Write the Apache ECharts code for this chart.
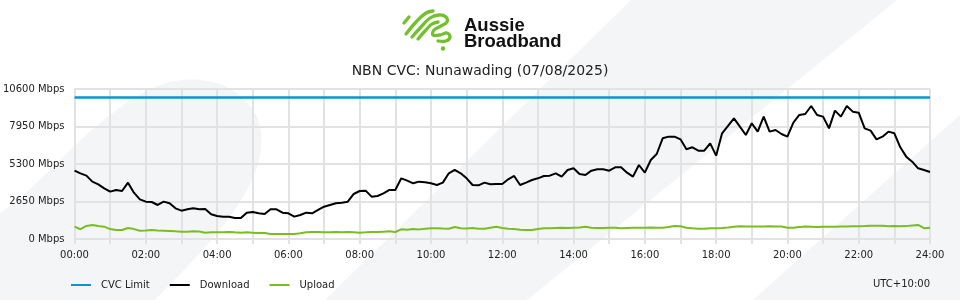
<!DOCTYPE html>
<html><head><meta charset="utf-8">
<script src="https://cdn.jsdelivr.net/npm/echarts@6/dist/echarts.min.js"></script>
<style>html,body{margin:0;padding:0;background:#fff}#c{width:960px;height:300px}</style>
</head><body><div id="c"></div>
<script>
// Download (Mbps), one value every 10 minutes from 00:00 to 24:00
const download = [
4830,4641,4476,4052,3864,3581,3346,3463,3393,3982,3275,2804,
2639,2615,2403,2639,2521,2168,2003,2097,2168,2097,2120,1743,
1626,1579,1579,1484,1484,1861,1908,1814,1767,2097,2097,1861,
1814,1579,1696,1861,1814,2050,2285,2403,2521,2568,2639,3181,
3393,3416,2992,3039,3228,3463,3463,4288,4123,3935,4052,4005,
3935,3817,3982,4641,4877,4641,4288,3817,3793,3982,3864,3887,
3887,4217,4453,3817,3982,4170,4288,4453,4476,4641,4406,4877,
4995,4594,4523,4830,4924,4924,4830,5065,5065,4688,4406,5230,
4688,5584,6008,7115,7233,7233,7044,6338,6479,6243,6243,6762,
5890,7469,7987,8529,7940,7351,8175,7586,8647,7586,7704,7421,
7233,8222,8764,8835,9400,8764,8647,7822,9071,8647,9400,9000,
8929,7822,7657,7044,7233,7586,7469,6479,5819,5466,4995,4877,
4735
];
// Upload (Mbps), same sampling
const upload = [
872,690,920,990,920,870,700,636,636,780,700,589,
600,640,600,589,570,540,518,518,540,530,448,480,
470,470,495,470,448,470,440,430,420,353,353,353,
353,360,400,470,495,495,470,480,495,480,495,480,
448,470,495,495,520,540,495,683,660,700,680,720,
754,754,740,730,850,760,740,770,730,730,800,870,
780,730,700,660,640,636,700,760,760,780,800,780,
800,820,870,800,780,780,800,800,760,780,800,790,
800,820,800,800,850,920,900,800,760,730,730,760,
760,780,820,870,900,880,880,880,880,900,880,890,
800,800,850,880,870,850,860,870,860,880,880,900,
900,910,930,940,930,900,920,900,910,950,990,760,
800
];
const cvcLimit = 10000;
const yTicks = [0, 2650, 5300, 7950, 10600];
const seriesNames = ['CVC Limit', 'Download', 'Upload'];
const stepMinutes = 10;

const pad = n => String(n).padStart(2, '0');
const times = download.map((_, i) => {
  const m = i * stepMinutes;
  return pad(Math.floor(m / 60)) + ':' + pad(m % 60);
});

const FONT = 'DejaVu Sans';
const BG = '#f4f5f7';
const GREEN = '#78be20';
const LOGO_GREEN = '#72c02c';
const BLUE = '#0a94d6';
const GRID = '#e2e2e2';

const logoStroke = pts => ({type: 'polyline', silent: true, shape: {points: pts, smooth: 0.4},
  style: {stroke: LOGO_GREEN, lineWidth: 3.3, fill: null, lineCap: 'round', lineJoin: 'round'}});

const chart = echarts.init(document.getElementById('c'), null, {renderer: 'canvas'});
chart.setOption({
  animation: false,
  backgroundColor: '#ffffff',
  textStyle: {fontFamily: FONT},
  color: [BLUE, '#000000', GREEN],
  title: {
    text: 'NBN CVC: Nunawading (07/08/2025)',
    left: 'center', top: 59,
    textStyle: {fontFamily: FONT, fontSize: 14, fontWeight: 'normal', color: '#222'}
  },
  graphic: [
    {type: 'polygon', z: -10, silent: true,
     shape: {smooth: 0.35, points: [[-60,273],[30,189],[110,115],[170,82],[225,86],[258,120],[256,170],[218,232],[150,305],[80,380],[-60,380]]},
     style: {fill: BG}},
    {type: 'polygon', z: -10, silent: true,
     shape: {points: [[631,0],[897,0],[527,300],[325,300]]}, style: {fill: BG}},
    {type: 'polygon', z: -10, silent: true,
     shape: {points: [[753,300],[960,115],[960,300]]}, style: {fill: BG}},
    logoStroke([[404,23],[409,17]]),
    logoStroke([[406,34],[416,22],[426,13],[433,11]]),
    logoStroke([[412,37],[421,27],[430,18],[439,15],[446,17],[447,22],[441,26],[434,30],[433,35],[440,35],[447,33],[450,37],[446,41],[438,41]]),
    logoStroke([[418,39],[425,31],[432,24],[438,22]]),
    {type: 'circle', silent: true, shape: {cx: 443, cy: 48.5, r: 2.2}, style: {fill: LOGO_GREEN}},
    {type: 'text', silent: true, x: 464, y: 26,
     style: {text: 'Aussie', font: 'bold 18.5px "Liberation Sans"', fill: '#111', verticalAlign: 'middle'}},
    {type: 'text', silent: true, x: 464, y: 41.5,
     style: {text: 'Broadband', font: 'bold 18.5px "Liberation Sans"', fill: '#111', verticalAlign: 'middle'}},
    {type: 'text', silent: true, x: 930, y: 284,
     style: {text: 'UTC+10:00', font: '10px "DejaVu Sans"', fill: '#222', align: 'right', verticalAlign: 'middle'}}
  ],
  legend: {
    data: seriesNames,
    left: 66, top: 275,
    icon: 'rect', itemWidth: 20, itemHeight: 2, itemGap: 20,
    textStyle: {fontFamily: FONT, fontSize: 10, color: '#222', padding: [0, 0, 0, 5]}
  },
  grid: {left: 70, right: 30, top: 89, bottom: 61, containLabel: false},
  xAxis: {
    type: 'category', data: times, boundaryGap: false,
    axisLine: {show: true, lineStyle: {color: GRID, width: 2}},
    axisTick: {show: true, interval: 5, length: 5, lineStyle: {color: GRID, width: 2}},
    axisLabel: {interval: 11, margin: 11, fontFamily: FONT, fontSize: 10, color: '#222'},
    splitLine: {show: true, interval: 5, lineStyle: {color: GRID, width: 2}}
  },
  yAxis: {
    type: 'value', min: yTicks[0], max: yTicks[yTicks.length - 1], interval: yTicks[1] - yTicks[0],
    axisLine: {show: false}, axisTick: {show: false},
    axisLabel: {margin: 10, fontFamily: FONT, fontSize: 10, color: '#222', formatter: v => v + ' Mbps'},
    splitLine: {show: true, lineStyle: {color: GRID, width: 2}}
  },
  series: [
    {name: seriesNames[0], type: 'line', data: [], itemStyle: {color: BLUE}, lineStyle: {color: BLUE, width: 2},
     markLine: {silent: true, symbol: 'none', label: {show: false},
       lineStyle: {color: BLUE, width: 2.5, type: 'solid'}, data: [{yAxis: cvcLimit}]}},
    {name: seriesNames[1], type: 'line', data: download, showSymbol: false,
     itemStyle: {color: '#000'}, lineStyle: {color: '#000', width: 2}},
    {name: seriesNames[2], type: 'line', data: upload, showSymbol: false,
     itemStyle: {color: GREEN}, lineStyle: {color: GREEN, width: 2}}
  ]
});
</script></body></html>
